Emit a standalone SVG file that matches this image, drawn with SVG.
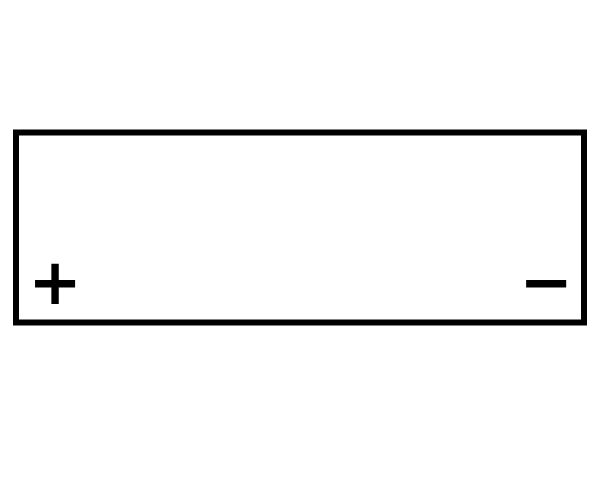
<svg xmlns="http://www.w3.org/2000/svg" width="600" height="480" viewBox="0 0 600 480">
<style>
.body{fill:#fff;stroke:#000;stroke-width:6}
.sign{font-family:"DejaVu Sans",sans-serif;font-weight:bold;font-size:64px;fill:#000;text-anchor:middle}
</style>
<rect width="600" height="480" fill="#fff"/>
<g id="battery">
<rect class="body" x="16" y="132.5" width="568" height="190"/>
</g>
<g id="positive"><text class="sign" x="55" y="304">+</text></g>
<g id="negative"><text class="sign" x="546" y="304">−</text></g>
</svg>
